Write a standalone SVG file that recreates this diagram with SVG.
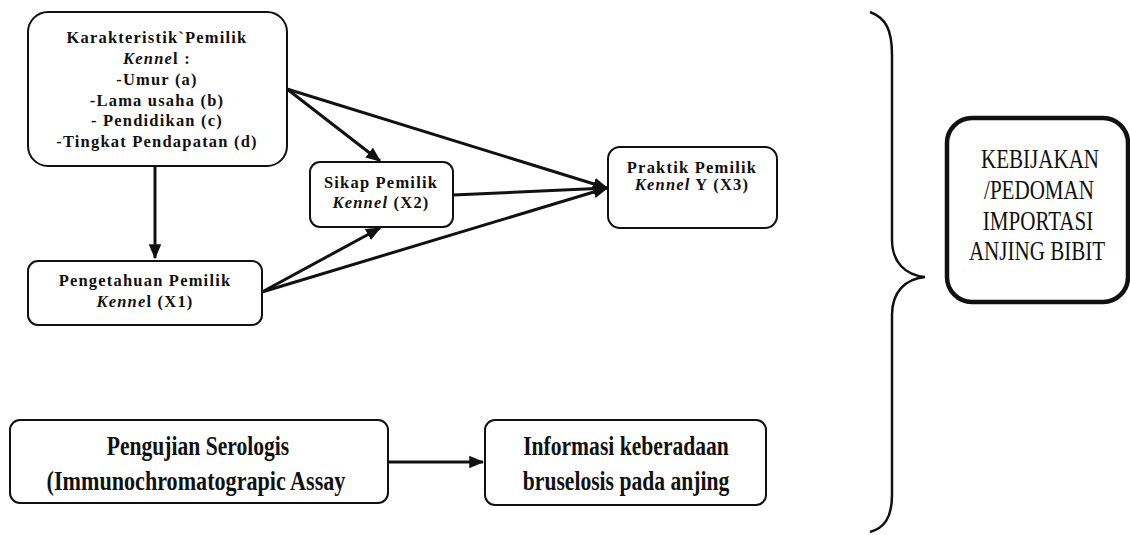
<svg xmlns="http://www.w3.org/2000/svg" width="1130" height="535" viewBox="0 0 1130 535">
<style>
.box{fill:#fff;stroke:#111;stroke-width:2}
.big{fill:#fff;stroke:#111;stroke-width:4.5}
.t{font-family:"Liberation Serif","Times New Roman",serif;font-weight:bold;font-size:16.5px;letter-spacing:1.2px;fill:#111;text-anchor:middle}
.tb{font-family:"Liberation Serif","Times New Roman",serif;font-weight:bold;font-size:27px;fill:#111;text-anchor:middle}
.tn{font-family:"Liberation Serif","Times New Roman",serif;font-size:27px;fill:#111;text-anchor:middle}
.c{stroke:#111;stroke-width:3;fill:none;marker-end:url(#ah)}
.brace{stroke:#111;stroke-width:2.5;fill:none}
</style>
<defs>
<marker id="ah" viewBox="0 0 12 10" refX="11" refY="5" markerWidth="5" markerHeight="4.4" orient="auto" markerUnits="strokeWidth">
<path d="M0,0 L12,5 L0,10 Z" fill="#111"/>
</marker>
</defs>
<g id="connectors">
<line class="c" x1="155" y1="166" x2="155" y2="258"/>
<line class="c" x1="287" y1="89" x2="380" y2="161"/>
<line class="c" x1="287" y1="89" x2="607" y2="188"/>
<line class="c" x1="453" y1="195" x2="607" y2="188"/>
<line class="c" x1="262" y1="292" x2="380" y2="228"/>
<line class="c" x1="262" y1="292" x2="607" y2="188"/>
<line class="c" x1="388" y1="462" x2="483" y2="462"/>
</g>
<g id="karakteristik">
<rect class="box" x="28" y="12" width="259" height="154" rx="20"/>
<text class="t" x="157" y="43">Karakteristik`Pemilik</text>
<text class="t" x="157" y="64"><tspan font-style="italic">Kenne</tspan>l :</text>
<text class="t" x="157" y="85">-Umur (a)</text>
<text class="t" x="157" y="106">-Lama usaha (b)</text>
<text class="t" x="157" y="126">- Pendidikan (c)</text>
<text class="t" x="157" y="147">-Tingkat Pendapatan (d)</text>
</g>
<g id="pengetahuan">
<rect class="box" x="28" y="261" width="234" height="64" rx="10"/>
<text class="t" x="145" y="286">Pengetahuan Pemilik</text>
<text class="t" x="145" y="307"><tspan font-style="italic">Kenne</tspan>l (X1)</text>
</g>
<g id="sikap">
<rect class="box" x="310" y="162" width="143" height="65" rx="10"/>
<text class="t" x="381" y="188">Sikap Pemilik</text>
<text class="t" x="381" y="208"><tspan font-style="italic">Kennel</tspan>  (X2)</text>
</g>
<g id="praktik">
<rect class="box" x="608" y="147" width="169" height="81" rx="12"/>
<text class="t" x="692" y="173">Praktik  Pemilik</text>
<text class="t" x="692" y="190"><tspan font-style="italic">Kennel</tspan> Y (X3)</text>
</g>
<g id="pengujian">
<rect class="box" x="10" y="420" width="378" height="83" rx="10"/>
<text class="tb" transform="translate(198,455) scale(0.8,1)">Pengujian Serologis</text>
<text class="tb" transform="translate(196,490) scale(0.82,1)">(Immunochromatograpic Assay</text>
</g>
<g id="informasi">
<rect class="box" x="485" y="420" width="281" height="85" rx="10"/>
<text class="tb" transform="translate(626,455) scale(0.8,1)">Informasi keberadaan</text>
<text class="tb" transform="translate(626,490) scale(0.8,1)">bruselosis pada anjing</text>
</g>
<g id="brace">
<path class="brace" d="M870,12 C886,18 892,30 892,55 L892,240 C892,262 905,275 925,277 C905,279 892,292 892,315 L892,495 C892,518 884,528 870,532"/>
</g>
<g id="kebijakan">
<rect class="big" x="947" y="118" width="181" height="184" rx="25"/>
<text class="tn" transform="translate(1040,168) scale(0.78,1)">KEBIJAKAN</text>
<text class="tn" transform="translate(1039,199) scale(0.78,1)">/PEDOMAN</text>
<text class="tn" transform="translate(1038,230) scale(0.78,1)">IMPORTASI</text>
<text class="tn" transform="translate(1037,260) scale(0.78,1)">ANJING BIBIT</text>
</g>
</svg>
